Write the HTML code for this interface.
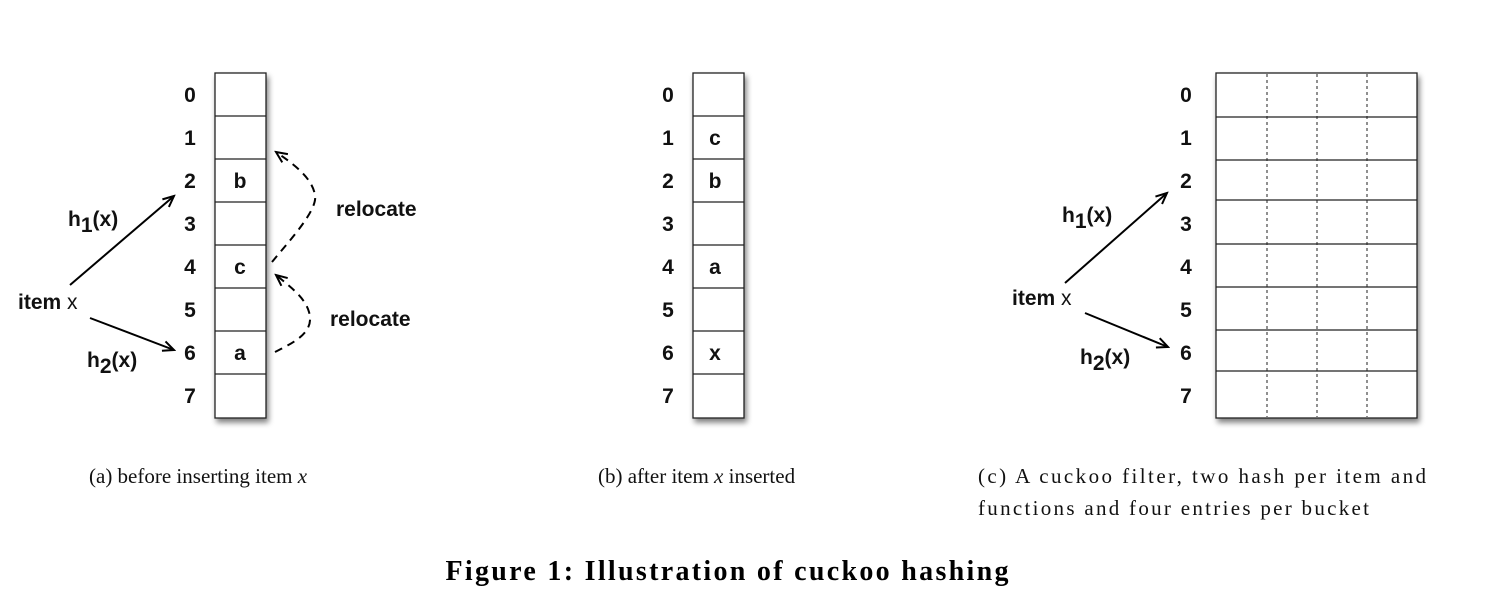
<!DOCTYPE html>
<html><head><meta charset="utf-8"><style>
html,body{margin:0;padding:0;background:#fff;}
svg{display:block}
.n{font-family:"Liberation Sans",Arial,sans-serif;font-weight:bold;font-size:21px;fill:#111}
.c{font-family:"Liberation Serif","Times New Roman",serif;font-size:21px;fill:#111}
</style></head><body>
<svg width="1488" height="608" viewBox="0 0 1488 608" xmlns="http://www.w3.org/2000/svg">
<defs>
<filter id="sh" x="-20%" y="-10%" width="140%" height="120%"><feGaussianBlur in="SourceAlpha" stdDeviation="3"/><feOffset dx="2" dy="4"/><feComponentTransfer><feFuncA type="linear" slope="0.5"/></feComponentTransfer><feMerge><feMergeNode/><feMergeNode in="SourceGraphic"/></feMerge></filter>
<marker id="ah" markerWidth="14" markerHeight="12" refX="12" refY="6" orient="auto" markerUnits="userSpaceOnUse"><path d="M1,1 L12,6 L1,11" fill="none" stroke="#000" stroke-width="2"/></marker>
</defs>

<!-- Panel a -->
<g filter="url(#sh)"><rect x="215" y="73" width="51" height="345" fill="#fff" stroke="#222" stroke-width="1.3"/></g>
<g stroke="#222" stroke-width="1.3">
<line x1="215" y1="116" x2="266" y2="116"/><line x1="215" y1="159" x2="266" y2="159"/><line x1="215" y1="202" x2="266" y2="202"/><line x1="215" y1="245" x2="266" y2="245"/><line x1="215" y1="288" x2="266" y2="288"/><line x1="215" y1="331" x2="266" y2="331"/><line x1="215" y1="374" x2="266" y2="374"/>
</g>
<g class="n" text-anchor="middle">
<text x="190" y="102">0</text><text x="190" y="145">1</text><text x="190" y="188">2</text><text x="190" y="231">3</text><text x="190" y="274">4</text><text x="190" y="317">5</text><text x="190" y="360">6</text><text x="190" y="403">7</text>
<text x="240" y="188">b</text><text x="240" y="274">c</text><text x="240" y="360">a</text>
</g>
<text class="n" x="18" y="309">item <tspan font-weight="normal">x</tspan></text>
<line x1="70" y1="285" x2="174" y2="196" stroke="#000" stroke-width="2" marker-end="url(#ah)"/>
<line x1="90" y1="318" x2="174" y2="350" stroke="#000" stroke-width="2" marker-end="url(#ah)"/>
<text class="n" x="68" y="226">h<tspan dy="6">1</tspan><tspan dy="-6">(x)</tspan></text>
<text class="n" x="87" y="367">h<tspan dy="6">2</tspan><tspan dy="-6">(x)</tspan></text>
<path d="M272,262 C290,240 318,210 315,195 C312,178 295,165 276,152" fill="none" stroke="#000" stroke-width="2" stroke-dasharray="8,6" marker-end="url(#ah)"/>
<path d="M275,352 C295,342 315,332 309,312 C305,298 292,288 276,275" fill="none" stroke="#000" stroke-width="2" stroke-dasharray="8,6" marker-end="url(#ah)"/>
<text class="n" x="336" y="216">relocate</text>
<text class="n" x="330" y="326">relocate</text>

<!-- Panel b -->
<g filter="url(#sh)"><rect x="693" y="73" width="51" height="345" fill="#fff" stroke="#222" stroke-width="1.3"/></g>
<g stroke="#222" stroke-width="1.3">
<line x1="693" y1="116" x2="744" y2="116"/><line x1="693" y1="159" x2="744" y2="159"/><line x1="693" y1="202" x2="744" y2="202"/><line x1="693" y1="245" x2="744" y2="245"/><line x1="693" y1="288" x2="744" y2="288"/><line x1="693" y1="331" x2="744" y2="331"/><line x1="693" y1="374" x2="744" y2="374"/>
</g>
<g class="n" text-anchor="middle">
<text x="668" y="102">0</text><text x="668" y="145">1</text><text x="668" y="188">2</text><text x="668" y="231">3</text><text x="668" y="274">4</text><text x="668" y="317">5</text><text x="668" y="360">6</text><text x="668" y="403">7</text>
<text x="715" y="145">c</text><text x="715" y="188">b</text><text x="715" y="274">a</text><text x="715" y="360">x</text>
</g>

<!-- Panel c -->
<g filter="url(#sh)"><rect x="1216" y="73" width="201" height="345" fill="#fff" stroke="#222" stroke-width="1.3"/></g>
<g stroke="#222" stroke-width="1.3">
<line x1="1216" y1="117" x2="1417" y2="117"/><line x1="1216" y1="160" x2="1417" y2="160"/><line x1="1216" y1="200" x2="1417" y2="200"/><line x1="1216" y1="244" x2="1417" y2="244"/><line x1="1216" y1="287" x2="1417" y2="287"/><line x1="1216" y1="330" x2="1417" y2="330"/><line x1="1216" y1="371" x2="1417" y2="371"/>
</g>
<g stroke="#222" stroke-width="1" stroke-dasharray="3,3">
<line x1="1267" y1="74" x2="1267" y2="417"/><line x1="1317" y1="74" x2="1317" y2="417"/><line x1="1367" y1="74" x2="1367" y2="417"/>
</g>
<g class="n" text-anchor="middle">
<text x="1186" y="102">0</text><text x="1186" y="145">1</text><text x="1186" y="188">2</text><text x="1186" y="231">3</text><text x="1186" y="274">4</text><text x="1186" y="317">5</text><text x="1186" y="360">6</text><text x="1186" y="403">7</text>
</g>
<text class="n" x="1012" y="305">item <tspan font-weight="normal">x</tspan></text>
<line x1="1065" y1="283" x2="1167" y2="193" stroke="#000" stroke-width="2" marker-end="url(#ah)"/>
<line x1="1085" y1="313" x2="1168" y2="347" stroke="#000" stroke-width="2" marker-end="url(#ah)"/>
<text class="n" x="1062" y="222">h<tspan dy="6">1</tspan><tspan dy="-6">(x)</tspan></text>
<text class="n" x="1080" y="364">h<tspan dy="6">2</tspan><tspan dy="-6">(x)</tspan></text>

<!-- captions -->
<text class="c" x="89" y="483">(a)  before inserting item <tspan font-style="italic">x</tspan></text>
<text class="c" x="598" y="483">(b)  after item <tspan font-style="italic">x</tspan> inserted</text>
<text class="c" x="978" y="483" textLength="448">(c)  A cuckoo filter, two hash per item and</text>
<text class="c" x="978" y="515" textLength="391">functions and four entries per bucket</text>
<text x="727" y="580" text-anchor="middle" font-family="Liberation Serif,serif" font-weight="bold" font-size="28" textLength="563" fill="#000">Figure 1: Illustration of cuckoo hashing</text>
</svg>
</body></html>
